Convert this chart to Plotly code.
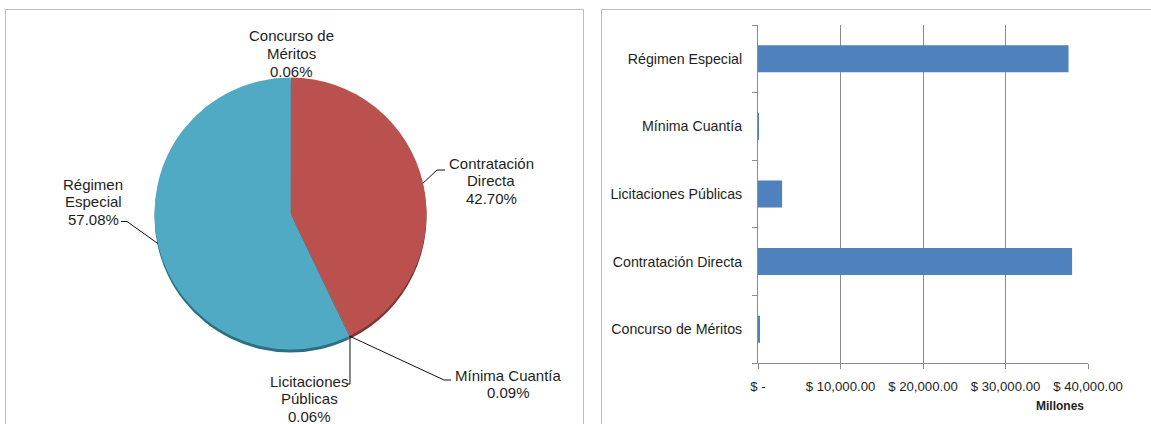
import math
import plotly.graph_objects as go

W, H = 1151, 424

# ---------------- data ----------------
categories = ["Concurso de Méritos", "Contratación Directa", "Licitaciones Públicas",
              "Mínima Cuantía", "Régimen Especial"]
pie_pct = [0.06, 42.70, 0.06, 0.09, 57.08]
bar_values = [150, 38070, 2920, 70, 37640]          # millones de pesos
x_tickvals = [0, 10000, 20000, 30000, 40000]
x_ticktext = ["$ -", "$ 10,000.00", "$ 20,000.00", "$ 30,000.00", "$ 40,000.00"]
pie_name_lines = [["Concurso de", "Méritos"], ["Contratación", "Directa"],
                  ["Licitaciones", "Públicas"], ["Mínima Cuantía"], ["Régimen", "Especial"]]

# ---------------- styles / layout constants ----------------
pie_colors = ["#4F81BD", "#BB514E", "#9BBB59", "#8064A2", "#50AAC4"]
shadow_colors = ["#2E4C70", "#7E3431", "#5E7535", "#4C3C62", "#2D6F80"]
bar_color = "#4F81BD"
grid_color = "#8C8C8C"
frame_color = "#BDBDBD"
text_color = "#1E1E1E"
FONT = "Liberation Sans, Arial, sans-serif"

def px(x):
    return x / W

def py(y):
    return 1 - y / H

PIE_CX, PIE_CY, PIE_R = 290.5, 213.5, 136
SHADOW = 3

# label placement (first line centre) and leader elbows, pixels
label_pos = {
    "Concurso de Méritos": (291, 36),
    "Contratación Directa": (491, 163),
    "Licitaciones Públicas": (309, 381),
    "Mínima Cuantía": (508, 375),
    "Régimen Especial": (93, 184),
}
leader = {
    "Contratación Directa": [(437, 170), (445, 170)],
    "Régimen Especial": [(127, 221.5), (121, 221.5)],
    "Licitaciones Públicas": [None, (347, 384)],
    "Mínima Cuantía": [(444, 380), (451, 380)],
}
LINE_GAP = 17.5

fig = go.Figure()

# shadow pie (3-D rim)
fig.add_trace(go.Pie(
    labels=categories, values=pie_pct, sort=False, direction="clockwise", rotation=0,
    marker=dict(colors=shadow_colors, line=dict(width=0)),
    textinfo="none", hoverinfo="skip", showlegend=False,
    domain=dict(x=[px(PIE_CX - PIE_R), px(PIE_CX + PIE_R)],
                y=[py(PIE_CY + PIE_R + SHADOW), py(PIE_CY - PIE_R + SHADOW)]),
))
# main pie
fig.add_trace(go.Pie(
    labels=categories, values=pie_pct, sort=False, direction="clockwise", rotation=0,
    marker=dict(colors=pie_colors, line=dict(width=0)),
    textinfo="none", showlegend=False,
    domain=dict(x=[px(PIE_CX - PIE_R), px(PIE_CX + PIE_R)],
                y=[py(PIE_CY + PIE_R), py(PIE_CY - PIE_R)]),
))

# bars
fig.add_trace(go.Bar(
    y=categories, x=bar_values, orientation="h",
    marker=dict(color=bar_color, line=dict(width=0)),
    showlegend=False, xaxis="x", yaxis="y",
))

shapes = []
annotations = []

# panel frames
shapes.append(dict(type="rect", xref="paper", yref="paper",
                   x0=px(5.5), x1=px(583.5), y0=py(440), y1=py(9.5),
                   line=dict(color=frame_color, width=1), layer="below"))
shapes.append(dict(type="rect", xref="paper", yref="paper",
                   x0=px(601.5), x1=px(1170), y0=py(440), y1=py(9.5),
                   line=dict(color=frame_color, width=1), layer="below"))

# pie labels and leader lines
total = sum(pie_pct)
cum = 0.0
for cat, v, name_lines in zip(categories, pie_pct, pie_name_lines):
    mid = (cum + v / 2) / total * 2 * math.pi
    cum += v
    ax = PIE_CX + PIE_R * math.sin(mid)
    ay = PIE_CY - PIE_R * math.cos(mid)
    lines = name_lines + [f"{v:.2f}%"]
    lx, ly = label_pos[cat]
    for i, t in enumerate(lines):
        annotations.append(dict(text=t, x=px(lx), y=py(ly + i * LINE_GAP), xref="paper", yref="paper",
                                xanchor="center", yanchor="middle", showarrow=False,
                                font=dict(family=FONT, size=15, color=text_color)))
    if cat in leader:
        elbow, end = leader[cat]
        if elbow is None:
            elbow = (ax, end[1])
        pts = [(ax, ay), elbow, end]
        for (x0, y0), (x1, y1) in zip(pts[:-1], pts[1:]):
            shapes.append(dict(type="line", xref="paper", yref="paper",
                               x0=px(x0), y0=py(y0), x1=px(x1), y1=py(y1),
                               line=dict(color="#111111", width=1)))

# axis unit
annotations.append(dict(text="<b>Millones</b>", x=px(1060), y=py(406), xref="paper", yref="paper",
                        xanchor="center", yanchor="middle", showarrow=False,
                        font=dict(family=FONT, size=12, color=text_color)))

fig.update_layout(
    width=W, height=H,
    margin=dict(l=0, r=0, t=0, b=0),
    paper_bgcolor="white", plot_bgcolor="white",
    font=dict(family=FONT, color=text_color),
    bargap=0.6,
    xaxis=dict(domain=[px(758), px(1088)], range=[0, 40000], tickvals=x_tickvals, ticktext=x_ticktext,
               showgrid=True, gridcolor=grid_color, gridwidth=1, zeroline=False,
               showline=True, linecolor=grid_color, linewidth=1,
               ticks="outside", ticklen=5, tickcolor=grid_color,
               tickfont=dict(family=FONT, size=13.2, color=text_color),
               ticklabelstandoff=6, automargin=False, fixedrange=True),
    yaxis=dict(domain=[py(363), py(25)], type="category", categoryorder="array", categoryarray=categories,
               showgrid=False, zeroline=False,
               showline=True, linecolor=grid_color, linewidth=1,
               ticks="outside", ticklen=5, tickcolor=grid_color, tickson="boundaries",
               tickfont=dict(family=FONT, size=14.2, color=text_color),
               ticklabelstandoff=12, automargin=False, fixedrange=True),
    shapes=shapes,
    annotations=annotations,
)

fig.write_html("out.html", config={"displayModeBar": False},
               post_script="document.body.style.margin='0';document.body.style.padding='0';")
